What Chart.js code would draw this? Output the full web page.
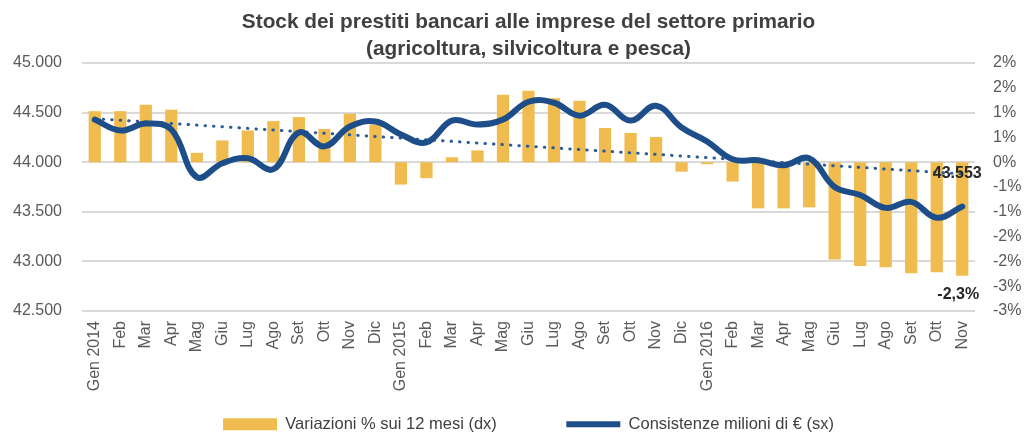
<!DOCTYPE html>
<html>
<head>
<meta charset="utf-8">
<script src="https://cdn.jsdelivr.net/npm/chart.js@4.4.1/dist/chart.umd.min.js"></script>
<style>
  html, body { margin: 0; padding: 0; background: #fff; }
</style>
</head>
<body>
<canvas id="chart" width="1027" height="433"></canvas>
<script>
// mesi sull'asse x
var mesi = ["Gen 2014","Feb","Mar","Apr","Mag","Giu","Lug","Ago","Set","Ott","Nov","Dic",
            "Gen 2015","Feb","Mar","Apr","Mag","Giu","Lug","Ago","Set","Ott","Nov","Dic",
            "Gen 2016","Feb","Mar","Apr","Mag","Giu","Lug","Ago","Set","Ott","Nov"];

// variazioni % sui 12 mesi (asse destro)
var variazioni = [1.03, 1.03, 1.16, 1.06, 0.19, 0.44, 0.64, 0.83, 0.91, 0.67, 0.98, 0.76,
                  -0.45, -0.32, 0.10, 0.24, 1.36, 1.44, 1.29, 1.24, 0.69, 0.59, 0.51, -0.19,
                  -0.04, -0.39, -0.93, -0.93, -0.91, -1.96, -2.09, -2.12, -2.24, -2.22, -2.29];

// consistenze in milioni di euro (asse sinistro)
var consistenze = [44430, 44320, 44390, 44330, 43850, 43990, 44040, 43930, 44300, 44160, 44360, 44410,
                   44280, 44200, 44420, 44380, 44430, 44610, 44600, 44470, 44580, 44420, 44570, 44350,
                   44210, 44030, 44020, 43970, 44040, 43750, 43670, 43540, 43600, 43440, 43553];

var titolo = ["Stock dei prestiti bancari alle imprese del settore primario",
              "(agricoltura, silvicoltura e pesca)"];

var GIALLO = "#F0BC4F";
var BLU = "#1D4E89";
var GRIGIO = "#595959";
var FONT = "'Liberation Sans', Arial, sans-serif";

// linea di tendenza lineare (minimi quadrati) come in Excel
function tendenza(valori) {
  var n = valori.length, sx = 0, sy = 0, sxy = 0, sxx = 0;
  valori.forEach(function (v, i) { sx += i; sy += v; sxy += i * v; sxx += i * i; });
  var b = (n * sxy - sx * sy) / (n * sxx - sx * sx);
  var a = (sy - b * sx) / n;
  return valori.map(function (v, i) { return a + b * i; });
}

function migliaia(v) {
  return String(Math.round(v)).replace(/\B(?=(\d{3})+(?!\d))/g, ".");
}

// etichette sull'ultimo punto
var etichette = {
  id: "etichette",
  afterDatasetsDraw: function (chart) {
    var ctx = chart.ctx;
    var ultimo = consistenze.length - 1;
    var p = chart.getDatasetMeta(1).data[ultimo];
    var b = chart.getDatasetMeta(0).data[ultimo];
    ctx.save();
    ctx.font = "bold 16px " + FONT;
    ctx.fillStyle = "#262626";
    ctx.textAlign = "center";
    ctx.textBaseline = "middle";
    ctx.fillText(migliaia(consistenze[ultimo]), p.x - 5, p.y - 33);
    ctx.fillText(variazioni[ultimo].toFixed(1).replace(".", ",") + "%", b.x - 4, b.y + 19);
    ctx.restore();
  }
};

new Chart(document.getElementById("chart"), {
  type: "bar",
  data: {
    labels: mesi,
    datasets: [{
      label: "Variazioni % sui 12 mesi (dx)",
      data: variazioni,
      backgroundColor: GIALLO,
      borderWidth: 0,
      yAxisID: "y1",
      order: 3,
      pointStyle: "rect",
      categoryPercentage: 1,
      barPercentage: 0.48
    }, {
      type: "line",
      label: "Consistenze milioni di € (sx)",
      data: consistenze,
      borderColor: BLU,
      backgroundColor: BLU,
      borderWidth: 6,
      borderCapStyle: "round",
      tension: 0.4,
      pointRadius: 0,
      pointHoverRadius: 0,
      pointStyle: "line",
      yAxisID: "y",
      order: 1
    }, {
      type: "line",
      label: "Tendenza",
      data: tendenza(consistenze),
      borderColor: "#2A5C9A",
      borderWidth: 3,
      borderDash: [0.5, 8],
      borderCapStyle: "round",
      pointRadius: 0,
      pointHoverRadius: 0,
      yAxisID: "y",
      order: 2
    }]
  },
  options: {
    responsive: false,
    animation: false,
    layout: { padding: 0 },
    plugins: {
      title: {
        display: true,
        fullSize: false,
        text: titolo,
        color: "#404040",
        font: { family: FONT, size: 20.8, weight: "bold", lineHeight: 1.3 },
        padding: { top: 9, bottom: 0 }
      },
      legend: {
        position: "bottom",
        fullSize: false,
        maxHeight: 37,
        labels: {
          usePointStyle: true,
          pointStyleWidth: 54,
          boxHeight: 12,
          padding: 20,
          color: "#404040",
          font: { family: FONT, size: 16.5 },
          generateLabels: function (chart) {
            var voci = Chart.defaults.plugins.legend.labels.generateLabels(chart);
            // spazio tra le due voci come nell'originale
            voci.forEach(function (v) {
              if (v.datasetIndex === 0) v.text += "\u2003\u2003\u2003";
            });
            return voci;
          },
          filter: function (item) { return item.datasetIndex < 2; },
          sort: function (a, b) { return a.datasetIndex - b.datasetIndex; }
        }
      },
      tooltip: { enabled: false }
    },
    scales: {
      x: {
        grid: { display: false, drawTicks: false },
        border: { display: false },
        ticks: {
          color: GRIGIO,
          font: { family: FONT, size: 16 },
          minRotation: 90,
          maxRotation: 90,
          autoSkip: false,
          padding: 10
        },
        afterFit: function (s) { s.height = 85; }
      },
      y: {
        position: "left",
        min: 42500,
        max: 45000,
        grid: { color: "#D9D9D9", lineWidth: 2, drawTicks: false },
        border: { display: false },
        ticks: {
          stepSize: 500,
          color: GRIGIO,
          font: { family: FONT, size: 16 },
          padding: 20,
          callback: function (v) { return migliaia(v); }
        },
        afterFit: function (s) { s.width = 82; }
      },
      y1: {
        position: "right",
        min: -3,
        max: 2,
        grid: { display: false, drawTicks: false },
        border: { display: false },
        ticks: {
          stepSize: 0.5,
          color: GRIGIO,
          font: { family: FONT, size: 16 },
          padding: 18,
          callback: function (v) { return (v < 0 ? "-" : "") + Math.round(Math.abs(v)) + "%"; }
        },
        afterFit: function (s) { s.width = 52; }
      }
    }
  },
  plugins: [etichette]
});
</script>
</body>
</html>
